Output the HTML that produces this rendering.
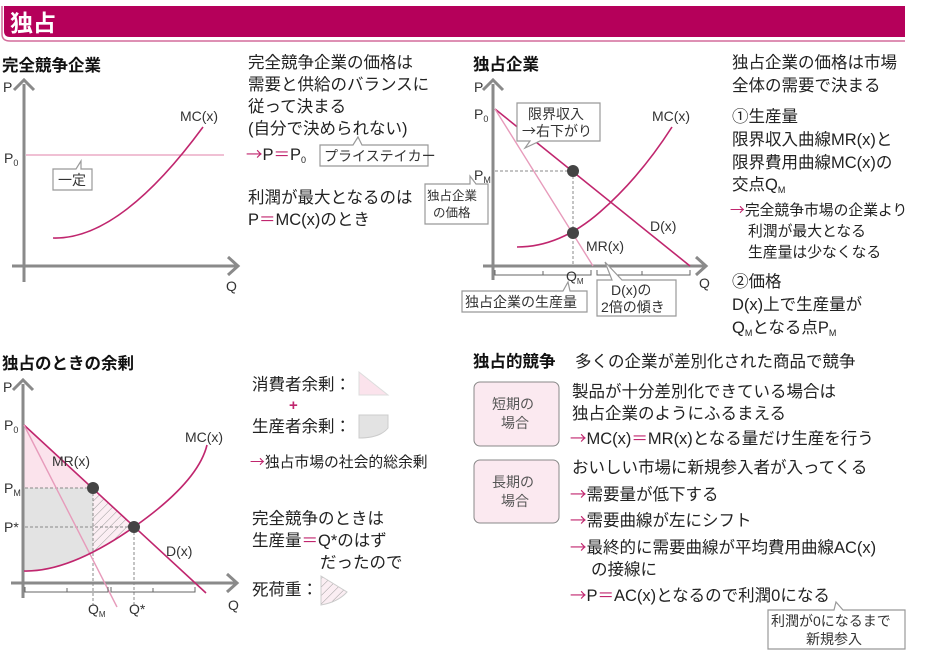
<!DOCTYPE html>
<html><head><meta charset="utf-8"><style>
html,body{margin:0;padding:0;background:#fff;}
svg{display:block;font-family:"Liberation Sans","Noto Sans CJK JP",sans-serif;}
.t{font-size:16.5px;fill:#222;}
.s{font-size:14.8px;fill:#222;}
.l{font-size:14px;fill:#333;}
.b{font-size:16.5px;font-weight:bold;fill:#111;}
.m{fill:#c0266e;}
.a{fill:#c0266e;font-family:"Noto Sans CJK JP",sans-serif;}
.ax{stroke:#8a8a8a;stroke-width:3;fill:none;}
.cb{fill:#fff;stroke:#999;stroke-width:1.2;}
</style></head><body>
<svg width="944" height="655" viewBox="0 0 944 655" xmlns="http://www.w3.org/2000/svg">
<defs>
<pattern id="h" width="6" height="6" patternUnits="userSpaceOnUse" patternTransform="rotate(45)"><rect width="6" height="6" fill="#fbeef3"/><line x1="0" y1="0" x2="0" y2="6" stroke="#999" stroke-width="1"/></pattern>
</defs>
<!-- header -->
<path d="M4 6 H905 V37 H10 Q4 37 4 31 Z" fill="#b5005a"/>
<path d="M2 6 V34 Q2 41 10 41 H905" stroke="#d36c9b" stroke-width="1.5" fill="none"/>
<text x="10" y="31" style="font-size:23px;font-weight:bold;fill:#fff">独占</text>

<!-- chart 1 -->
<text x="2" y="71" class="b">完全競争企業</text>
<path class="ax" d="M24 282 V84 M14 90 L24 80 L34 90"/>
<path class="ax" d="M12 266 H237 M228 257 L238 266 L228 275"/>
<text x="3" y="92" class="l">P</text>
<text x="4" y="163" class="l">P<tspan font-size="9" dy="3">0</tspan></text>
<line x1="26" y1="155" x2="224" y2="155" stroke="#e79bbb" stroke-width="1.2"/>
<path d="M53 238 Q120 240 203 127" stroke="#c0266e" stroke-width="1.6" fill="none"/>
<text x="180" y="121" class="l">MC(x)</text>
<path class="cb" d="M53 169 H76 L81 161 L81 169 H92 V190 H53 Z"/>
<text x="58" y="185" class="l">一定</text>
<text x="226" y="291" class="l">Q</text>

<!-- text 1 -->
<text x="248" y="68" class="t">完全競争企業の価格は</text>
<text x="248" y="90" class="t">需要と供給のバランスに</text>
<text x="248" y="112" class="t">従って決まる</text>
<text x="248" y="134" class="t">(自分で決められない)</text>
<text x="246" y="160" class="t"><tspan class="a">→</tspan>P<tspan class="m">＝</tspan>P<tspan font-size="9" dy="3">0</tspan></text>
<path class="cb" d="M320 145 H353 L358 137 L362 145 H428 V166 H320 Z"/>
<text x="324" y="161" class="l">プライステイカー</text>
<text x="248" y="203" class="t">利潤が最大となるのは</text>
<text x="248" y="225" class="t">P<tspan class="m">＝</tspan>MC(x)のとき</text>

<!-- chart 2 -->
<text x="473" y="70" class="b">独占企業</text>
<path class="ax" d="M493 280 V84 M483 90 L493 80 L503 90"/>
<path class="ax" d="M483 266 H705 M696 257 L706 266 L696 275"/>
<text x="474" y="92" class="l">P</text>
<text x="474" y="119" class="l">P<tspan font-size="9" dy="3">0</tspan></text>
<text x="474" y="180" class="l">P<tspan font-size="9" dy="3">M</tspan></text>
<line x1="495" y1="171" x2="573" y2="171" stroke="#888" stroke-dasharray="3,2"/>
<line x1="573" y1="171" x2="573" y2="266" stroke="#888" stroke-dasharray="3,2"/>
<line x1="495" y1="109" x2="690" y2="266" stroke="#c0266e" stroke-width="1.6"/>
<line x1="495" y1="109" x2="593" y2="266" stroke="#e79bbb" stroke-width="1.4"/>
<path d="M517 247 Q560 247 600 212 T672 127" stroke="#c0266e" stroke-width="1.6" fill="none"/>
<circle cx="573" cy="171" r="6" fill="#444"/>
<circle cx="573" cy="233" r="6" fill="#444"/>
<text x="652" y="121" class="l">MC(x)</text>
<text x="650" y="231" class="l">D(x)</text>
<text x="586" y="251" class="l">MR(x)</text>
<text x="699" y="288" class="l">Q</text>
<path d="M495 270 V275 H591 V270 M597 270 V275 H690 V270 M543 271 V275 M642 271 V275" stroke="#666" fill="none"/>
<text x="566" y="281" class="l">Q<tspan font-size="8" dy="3">M</tspan></text>
<path class="cb" d="M517 103 H600 V141 H540 L525 148 L530 141 H517 Z"/>
<text x="528" y="119" class="l">限界収入</text>
<text x="522" y="136" class="l"><tspan style="font-family:'Noto Sans CJK JP',sans-serif">→</tspan>右下がり</text>
<path class="cb" d="M425 184 H470 V176 L476 184 H488 V224 H425 Z"/>
<text x="427" y="200" style="font-size:12.5px;fill:#333">独占企業</text>
<text x="433" y="217" style="font-size:12.5px;fill:#333">の価格</text>
<path class="cb" d="M462 291 H563 L568 282 L570 291 H587 V312 H462 Z"/>
<text x="465" y="307" class="l">独占企業の生産量</text>
<path class="cb" d="M597 280 H612 L605 262 L622 280 H676 V316 H597 Z"/>
<text x="611" y="295" class="l">D(x)の</text>
<text x="601" y="312" class="l">2倍の傾き</text>

<!-- text 2 -->
<text x="732" y="68" class="t">独占企業の価格は市場</text>
<text x="732" y="91" class="t">全体の需要で決まる</text>
<text x="732" y="122" class="t">①生産量</text>
<text x="732" y="145" class="t">限界収入曲線MR(x)と</text>
<text x="732" y="168" class="t">限界費用曲線MC(x)の</text>
<text x="732" y="190" class="t">交点Q<tspan font-size="9" dy="3">M</tspan></text>
<text x="730" y="215" class="s"><tspan class="a">→</tspan>完全競争市場の企業より</text>
<text x="748" y="236" class="s">利潤が最大となる</text>
<text x="748" y="257" class="s">生産量は少なくなる</text>
<text x="732" y="287" class="t">②価格</text>
<text x="732" y="310" class="t">D(x)上で生産量が</text>
<text x="732" y="333" class="t">Q<tspan font-size="9" dy="3">M</tspan><tspan dy="-3">となる点P</tspan><tspan font-size="9" dy="3">M</tspan></text>

<!-- chart 3 -->
<text x="2" y="369" class="b">独占のときの余剰</text>
<path d="M24 425 L93 488 H24 Z" fill="#fbe3ec"/>
<path d="M24 488 H93 V553 Q50 572 24 571 Z" fill="#e3e3e3"/>
<path d="M93 488 L134 527 Q110 545 93 553 Z" fill="url(#h)"/>
<path class="ax" d="M23 598 V384 M13 390 L23 380 L33 390"/>
<path class="ax" d="M11 583 H236 M227 574 L237 583 L227 592"/>
<text x="3" y="392" class="l">P</text>
<text x="4" y="430" class="l">P<tspan font-size="9" dy="3">0</tspan></text>
<text x="4" y="493" class="l">P<tspan font-size="9" dy="3">M</tspan></text>
<text x="4" y="532" class="l">P*</text>
<line x1="25" y1="488" x2="93" y2="488" stroke="#888" stroke-dasharray="3,2"/>
<line x1="25" y1="527" x2="134" y2="527" stroke="#888" stroke-dasharray="3,2"/>
<line x1="93" y1="488" x2="93" y2="605" stroke="#888" stroke-dasharray="3,2"/>
<line x1="134" y1="527" x2="134" y2="605" stroke="#888" stroke-dasharray="3,2"/>
<line x1="24" y1="425" x2="206" y2="593" stroke="#c0266e" stroke-width="1.6"/>
<line x1="24" y1="425" x2="117" y2="607" stroke="#e79bbb" stroke-width="1.4"/>
<path d="M24 571 Q70 572 134 527 T207 445" stroke="#c0266e" stroke-width="1.6" fill="none"/>
<circle cx="93" cy="488" r="6" fill="#444"/>
<circle cx="134" cy="527" r="6" fill="#444"/>
<path d="M25 587 V592 H108 V587 M111 587 V592 H195 V587 M67 588 V592 M153 588 V592" stroke="#666" fill="none"/>
<text x="52" y="466" class="l">MR(x)</text>
<text x="185" y="442" class="l">MC(x)</text>
<text x="166" y="556" class="l">D(x)</text>
<text x="88" y="614" class="l">Q<tspan font-size="8" dy="3">M</tspan></text>
<text x="129" y="614" class="l">Q*</text>
<text x="228" y="610" class="l">Q</text>

<!-- text 3 -->
<text x="252" y="390" class="t">消費者余剰：</text>
<path d="M359 372 L388 395 H359 Z" fill="#fbe3ec" stroke="#ddd"/>
<text x="289" y="410" style="font-size:15px;fill:#c0266e;font-weight:bold">+</text>
<text x="252" y="432" class="t">生産者余剰：</text>
<path d="M359 415 H388 V428 Q380 438 359 438 Z" fill="#e3e3e3" stroke="#ccc"/>
<text x="250" y="467" class="s"><tspan class="a">→</tspan>独占市場の社会的総余剰</text>
<text x="252" y="524" class="t">完全競争のときは</text>
<text x="252" y="546" class="t">生産量<tspan class="m">＝</tspan>Q*のはず</text>
<text x="320" y="568" class="t">だったので</text>
<text x="252" y="595" class="t">死荷重：</text>
<path d="M321 576 L347 592 Q338 602 321 605 Z" fill="url(#h)" stroke="#ccc"/>

<!-- section 4 -->
<text x="473" y="367" class="b">独占的競争</text>
<text x="575" y="367" class="t">多くの企業が差別化された商品で競争</text>
<rect x="474" y="382" width="85" height="64" rx="6" fill="#fbe9f0" stroke="#888"/>
<text x="492" y="409" class="l" style="fill:#555">短期の</text>
<text x="501" y="428" class="l" style="fill:#555">場合</text>
<rect x="474" y="460" width="85" height="63" rx="6" fill="#fbe9f0" stroke="#888"/>
<text x="492" y="487" class="l" style="fill:#555">長期の</text>
<text x="501" y="506" class="l" style="fill:#555">場合</text>
<text x="572" y="397" class="t">製品が十分差別化できている場合は</text>
<text x="572" y="419" class="t">独占企業のようにふるまえる</text>
<text x="570" y="444" class="t"><tspan class="a">→</tspan>MC(x)<tspan class="m">＝</tspan>MR(x)となる量だけ生産を行う</text>
<text x="572" y="473" class="t">おいしい市場に新規参入者が入ってくる</text>
<text x="570" y="500" class="t"><tspan class="a">→</tspan>需要量が低下する</text>
<text x="570" y="526" class="t"><tspan class="a">→</tspan>需要曲線が左にシフト</text>
<text x="570" y="553" class="t"><tspan class="a">→</tspan>最終的に需要曲線が平均費用曲線AC(x)</text>
<text x="591" y="575" class="t">の接線に</text>
<text x="570" y="601" class="t"><tspan class="a">→</tspan>P<tspan class="m">＝</tspan>AC(x)となるので利潤0になる</text>
<path class="cb" d="M768 610 H834 L836 602 L843 610 H905 V649 H768 Z"/>
<text x="771" y="626" class="l">利潤が0になるまで</text>
<text x="806" y="644" class="l">新規参入</text>
</svg>
</body></html>
